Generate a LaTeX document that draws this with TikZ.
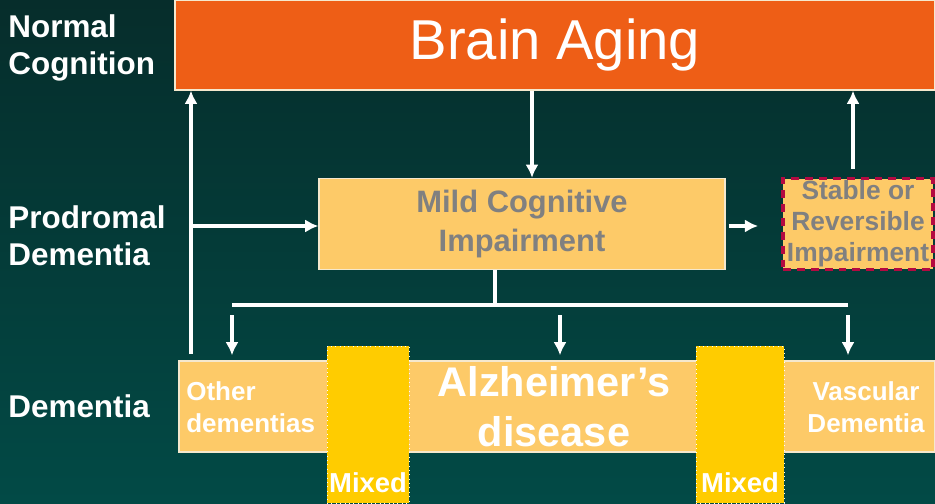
\documentclass[tikz,border=0pt]{standalone}
\usepackage{fontspec}
\setmainfont{Liberation Sans}
\usetikzlibrary{arrows.meta}
\definecolor{bgtop}{RGB}{6,45,43}
\definecolor{bgbot}{RGB}{2,74,70}
\definecolor{agingorange}{RGB}{238,94,22}
\definecolor{boxorange}{RGB}{253,202,104}
\definecolor{mixgold}{RGB}{255,204,0}
\definecolor{dashred}{RGB}{180,10,65}
\definecolor{boxgray}{RGB}{128,128,128}
\definecolor{rim}{RGB}{245,232,205}
\tikzset{
  stage/.style={anchor=west,inner sep=0pt,align=left,text=white,
    font=\fontsize{17.9}{21}\selectfont\bfseries},
  box/.style={rectangle,inner sep=0pt,draw=rim,line width=0.8pt,align=center},
  mixbox/.style={rectangle,inner sep=0pt,fill=mixgold,draw=white,dotted,line width=0.5pt},
  lbl/.style={inner sep=0pt,align=center,text=white,
    font=\fontsize{14.8}{18.2}\selectfont\bfseries},
  link/.style={draw=white,line width=2.2pt},
}
\begin{document}
\begin{tikzpicture}[x=0.02cm,y=-0.02cm,>={Latex[length=7.5pt,width=7.5pt]}]
	\useasboundingbox (0,0) rectangle (935,503);
	\shade[top color=bgtop,bottom color=bgbot] (0,0) rectangle (935,503);
	% stage labels
	\node[stage] (normal) at (8,48) {Normal\\Cognition};
	\node[stage] (prodromal) at (8,236) {Prodromal\\Dementia};
	\node[stage] (dementia) at (8,406) {Dementia};
	% top box
	\node[box,fill=agingorange,minimum width=15.2cm,minimum height=1.8cm,
	  text=white,font=\fontsize{32}{36}\selectfont] (aging) at (555,45) {Brain Aging};
	% MCI box
	\node[box,fill=boxorange,minimum width=8.12cm,minimum height=1.82cm,text=boxgray,
	  font=\fontsize{17.6}{22.4}\selectfont\bfseries] (mci) at (522,224) {Mild Cognitive\\Impairment};
	% stable box
	\node[rectangle,inner sep=0pt,fill=boxorange,draw=dashred,line width=2.2pt,
	  dash pattern=on 4.5pt off 3.4pt,minimum width=3cm,minimum height=1.82cm,
	  align=center,text=boxgray,font=\fontsize{15}{17.6}\selectfont\bfseries]
	  (stable) at (858,224) {Stable or\\Reversible\\Impairment};
	% dementia band
	\node[box,fill=boxorange,minimum width=15.12cm,minimum height=1.82cm] (band) at (557,406.5) {};
	\node[mixbox,minimum width=1.64cm,minimum height=3.14cm] (mixl) at (368,424.5) {};
	\node[mixbox,minimum width=1.76cm,minimum height=3.14cm] (mixr) at (740,424.5) {};
	\node[lbl,anchor=west,align=left] (other) at (186,407) {Other\\dementias};
	\node[inner sep=0pt,align=center,text=white,
	  font=\fontsize{23.6}{28.5}\selectfont\bfseries] (alz) at (554,407) {Alzheimer’s\\disease};
	\node[lbl] (vasc) at (866,407) {Vascular\\Dementia};
	\node[lbl,anchor=base,font=\fontsize{15.6}{18}\selectfont\bfseries] (mixtl) at (368,492) {Mixed};
	\node[lbl,anchor=base,font=\fontsize{15.6}{18}\selectfont\bfseries] (mixtr) at (740,492) {Mixed};
	% arrows
	\coordinate (dleft) at (191,354);
	\coordinate (jmci) at (191,226);
	\coordinate (cdown) at (532,0);
	\coordinate (stop) at (853,169);
	\coordinate (split) at (495,305);
	\coordinate (bandtop) at ([yshift=0.1cm]band.north);
	\draw[link,->] (dleft) -- (dleft |- aging.south);
	\draw[link,->] (jmci) -- (jmci -| mci.west);
	\draw[link,->] (aging.south -| cdown) -- (mci.north -| cdown);
	\draw[link,->] ([xshift=0.06cm,yshift=-0.04cm]mci.east) -- ([xshift=-0.46cm,yshift=-0.04cm]stable.west);
	\draw[link,->] (stop) -- (stop |- aging.south);
	% split to the three dementias
	\draw[link] (mci.south -| split) -- (split);
	\draw[link] (232,305) -- (848,305);
	\foreach \x in {232,560,848}
	  \draw[link,->] (\x,315) -- (\x,0 |- bandtop);
\end{tikzpicture}
\end{document}
